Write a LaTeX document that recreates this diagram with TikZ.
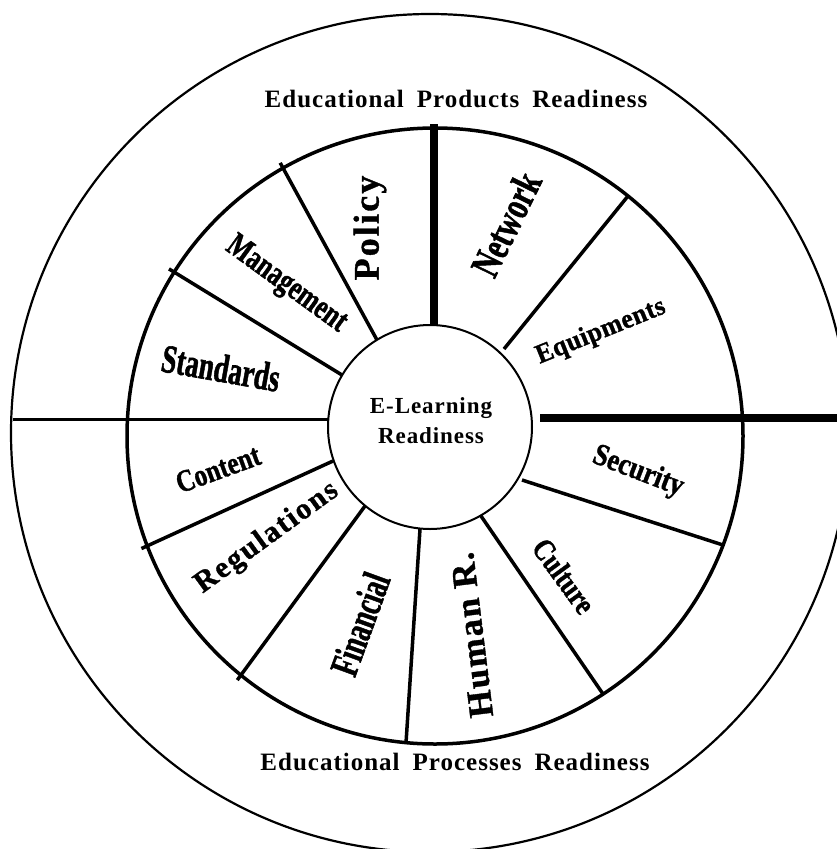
\documentclass[tikz,border=0pt]{standalone}
\usepackage{fontspec}
\usetikzlibrary{calc}
\setmainfont{Liberation Serif}
\newfontfamily\titlefont[LetterSpace=4]{Liberation Serif}
\newcommand\lblf[3]{\bfseries\fontsize{#1}{#1}\selectfont\addfontfeature{LetterSpace=#2,FakeBold=#3}}
\tikzset{
  spoke/.style={line width=3.5pt},
  heavyline/.style={line width=7.5pt},
  lbl/.style={inner sep=0pt, text=black},
  title/.style={anchor=base, inner sep=0pt, font=\titlefont\bfseries\fontsize{25}{25}\selectfont},
}
\begin{document}
\begin{tikzpicture}[x=1pt,y=-1pt]
\useasboundingbox (0,0) rectangle (837,849);
% coordinates
\coordinate (s1i) at (377,340); \coordinate (s1o) at (283,168);
\coordinate (s2i) at (342,375); \coordinate (s2o) at (174,272);
\coordinate (s3i) at (333,461); \coordinate (s3o) at (147,546);
\coordinate (s4i) at (365,506); \coordinate (s4o) at (241,675);
\coordinate (s5i) at (420,529); \coordinate (s5o) at (406,743);
\coordinate (s6i) at (481,516); \coordinate (s6o) at (603,694);
\coordinate (s7i) at (522,480); \coordinate (s7o) at (723,545);
\coordinate (s8i) at (504,349); \coordinate (s8o) at (628,196);
\coordinate (hl1) at (13,419.5); \coordinate (hl2) at (329,419.5);
\coordinate (hr1) at (540,418); \coordinate (hr2) at (845,418);
\coordinate (vt1) at (434,124); \coordinate (vt2) at (434,326);
\begin{scope}
\clip (0,0) rectangle (837,849);
\node[draw, circle, line width=2.2pt, minimum size=838pt, inner sep=0pt] (outer) at (430,433) {};
\draw[heavyline] (hr1) -- (hr2);
\end{scope}
\node[draw, circle, line width=3.5pt, minimum size=616pt, inner sep=0pt] (ring) at (435,436) {};
\node[draw, circle, line width=2pt, minimum size=204pt, inner sep=0pt] (core) at (430,427) {};
\draw[spoke] (hl1) -- (hl2);
\draw[heavyline] (vt1) -- (vt2);
\draw[spoke] (s1i) -- ($(s1i)!1.03!(s1o)$);
\draw[spoke] (s2i) -- ($(s2i)!1.03!(s2o)$);
\draw[spoke] (s3i) -- ($(s3i)!1.03!(s3o)$);
\draw[spoke] (s4i) -- ($(s4i)!1.03!(s4o)$);
\draw[spoke] (s5i) -- (s5o);
\draw[spoke] (s6i) -- (s6o);
\draw[spoke] (s7i) -- (s7o);
\draw[spoke] (s8i) -- (s8o);
% texts
\node[align=center, font=\titlefont\bfseries\fontsize{23}{30}\selectfont] (ctext) at (431,421) {E-Learning\\Readiness};
\node[title] (ttop) at (456,107) {Educational\hspace{13pt}Products\hspace{13pt}Readiness};
\node[title] (tbot) at (455,770) {Educational\hspace{13pt}Processes\hspace{13pt}Readiness};
\node[lbl, rotate=90] (policy) at (370,228) {\lblf{36}{6}{1}Policy};
\node[lbl, rotate=64] (network) at (506,224) {\lblf{41}{0}{1.5}\scalebox{0.72}[1]{Network}};
\node[lbl, rotate=-36] (management) at (286,285) {\lblf{34}{0}{1.5}\scalebox{0.74}[1]{Management}};
\node[lbl, rotate=-10] (standards) at (221,368) {\lblf{40}{0}{1.5}\scalebox{0.68}[1]{Standards}};
\node[lbl, rotate=22] (equipments) at (601,332) {\lblf{27}{2}{1.2}\scalebox{0.95}[1]{Equipments}};
\node[lbl, rotate=20] (content) at (218,469) {\lblf{31}{0}{1.3}\scalebox{0.82}[1]{Content}};
\node[lbl, rotate=36] (regulations) at (267,538) {\lblf{30}{6}{1}Regulations};
\node[lbl, rotate=70] (financial) at (360,624) {\lblf{40}{0}{1.5}\scalebox{0.66}[1]{Financial}};
\node[lbl, rotate=97] (human) at (472,635) {\lblf{35}{5}{1}Human R.};
\node[lbl, rotate=-54] (culture) at (564,576) {\lblf{31}{0}{1.3}\scalebox{0.82}[1]{Culture}};
\node[lbl, rotate=-21] (security) at (638,472) {\lblf{31}{0}{1.3}\scalebox{0.86}[1]{Security}};
\end{tikzpicture}
\end{document}
